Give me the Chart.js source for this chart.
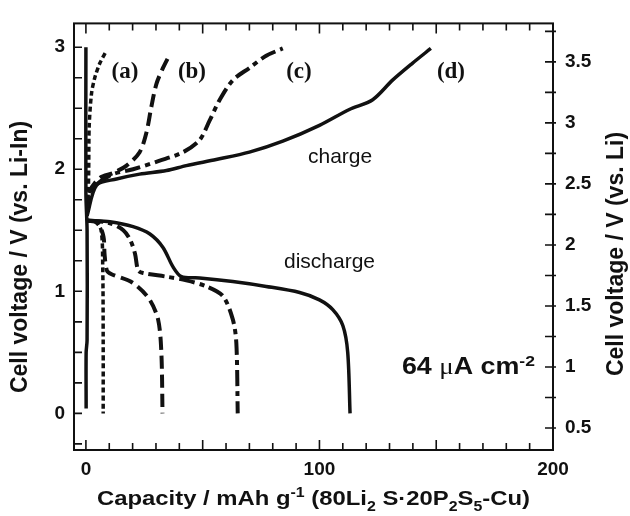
<!DOCTYPE html>
<html><head><meta charset="utf-8">
<script src="https://cdn.jsdelivr.net/npm/chart.js@4.4.1/dist/chart.umd.min.js"></script>
<style>html,body{margin:0;padding:0;background:#fff}</style>
</head><body>
<canvas id="c" width="630" height="516"></canvas>
<script>
// ---------- data ----------
const curveNames = ['(a)', '(b)', '(c)', '(d)'];

const vertX = [0, 0, 0.5, 0.5, 0.1, 0.1];
const vertY = [3.0, 1.8, 1.5, 0.6, 0.5, 0.04];

const chargeAX = [0.5, 1.0, 1.2, 1.4, 2.4, 3.8, 6.0, 8.8];
const chargeAY = [1.62, 1.8, 2.0, 2.35, 2.62, 2.75, 2.87, 2.97];
const dischargeAX = [0.5, 4, 6.5, 7.2, 7.4, 7.4];
const dischargeAY = [1.58, 1.57, 1.5, 1.2, 0.6, 0.0];

const chargeBX = [0.5, 1.7, 6, 11.7, 17.4, 23, 25.9, 28, 30.2, 33, 35.9];
const chargeBY = [1.65, 1.82, 1.93, 1.97, 2.03, 2.14, 2.30, 2.51, 2.70, 2.83, 2.94];
const dischargeBX = [0.5, 5, 7.5, 8, 9, 11, 20, 27, 30.9, 32.3, 32.8];
const dischargeBY = [1.58, 1.56, 1.45, 1.3, 1.17, 1.14, 1.07, 0.94, 0.77, 0.5, 0.0];

const chargeCX = [0.5, 2, 10.3, 20.2, 31.6, 41.6, 48.7, 53, 57.3, 62.9, 70, 77.2, 84.3];
const chargeCY = [1.65, 1.82, 1.95, 2.0, 2.07, 2.14, 2.24, 2.40, 2.57, 2.73, 2.83, 2.93, 2.99];
const dischargeCX = [0.5, 10, 16, 19, 21, 22.4, 24.5, 34.5, 43, 51.6, 58.7, 62.9, 64.4, 65];
const dischargeCY = [1.58, 1.56, 1.5, 1.42, 1.31, 1.17, 1.15, 1.12, 1.09, 1.04, 0.96, 0.77, 0.58, 0.0];

const chargeDX = [0.5, 4.6, 13.1, 23, 34.5, 43, 55.8, 70, 84.3, 100, 112.8, 122.8, 131.3, 139.9, 147.7];
const chargeDY = [1.62, 1.87, 1.92, 1.96, 1.99, 2.03, 2.08, 2.14, 2.23, 2.36, 2.49, 2.57, 2.73, 2.87, 2.99];
const dischargeDX = [0.5, 1.7, 10.3, 20.2, 27.4, 33, 37.3, 40.9, 48.7, 62.9, 77.2, 91.5, 100, 105.7, 110, 112.1, 113.1];
const dischargeDY = [1.58, 1.58, 1.57, 1.53, 1.47, 1.36, 1.20, 1.12, 1.11, 1.08, 1.04, 0.99, 0.93, 0.85, 0.72, 0.5, 0.0];

const xTickLabels = [0, 100, 200];
const yTickLabels = [0, 1, 2, 3];
const y2TickLabels = [0.5, 1, 1.5, 2, 2.5, 3, 3.5];
const LI_IN_OFFSET = 0.62; // V vs Li = V vs Li-In + 0.62

// ---------- helpers ----------
const pts = (xs, ys) => xs.map((v, i) => ({x: v, y: ys[i]}));
const INK = '#111';
const style = (dash, w) => ({borderColor: INK, borderWidth: w, borderDash: dash, pointRadius: 0, fill: false, tension: 0.3, borderCapStyle: 'butt', borderJoinStyle: 'round'});
const dashA = [5, 3], dashB = [13, 6], dashC = [16, 5, 5, 5], solid = [];

const datasets = [
  Object.assign({label: 'vertical', data: pts(vertX, vertY)}, style(solid, 3.5)),
  Object.assign({label: curveNames[0] + ' charge', data: pts(chargeAX, chargeAY)}, style(dashA, 3.5)),
  Object.assign({label: curveNames[0] + ' discharge', data: pts(dischargeAX, dischargeAY)}, style(dashA, 3.5)),
  Object.assign({label: curveNames[1] + ' charge', data: pts(chargeBX, chargeBY)}, style(dashB, 4)),
  Object.assign({label: curveNames[1] + ' discharge', data: pts(dischargeBX, dischargeBY)}, style(dashB, 4)),
  Object.assign({label: curveNames[2] + ' charge', data: pts(chargeCX, chargeCY)}, style(dashC, 4)),
  Object.assign({label: curveNames[2] + ' discharge', data: pts(dischargeCX, dischargeCY)}, style(dashC, 4)),
  Object.assign({label: curveNames[3] + ' charge', data: pts(chargeDX, chargeDY)}, style(solid, 3.5)),
  Object.assign({label: curveNames[3] + ' discharge', data: pts(dischargeDX, dischargeDY)}, style(solid, 3.5))
];

function rich(ctx, parts, x, y, fitW) {
  let w = 0;
  parts.forEach(p => { ctx.font = p[1]; w += ctx.measureText(p[0]).width; });
  const s = fitW ? fitW / w : 1;
  ctx.save(); ctx.translate(x, y); ctx.scale(s, 1);
  ctx.textAlign = 'left'; ctx.textBaseline = 'alphabetic';
  let cx = 0;
  parts.forEach(p => { ctx.font = p[1]; ctx.fillText(p[0], cx, p[2] || 0); cx += ctx.measureText(p[0]).width; });
  ctx.restore();
}

const SANS = 'Liberation Sans, Arial, sans-serif';
const SERIF = 'Liberation Serif, Times New Roman, serif';

const decor = {
  id: 'decor',
  afterDraw(chart) {
    const {ctx, chartArea: a, scales: {x, y, y2}} = chart;
    ctx.save();
    ctx.strokeStyle = INK; ctx.fillStyle = INK;
    ctx.lineWidth = 2;
    ctx.strokeRect(a.left, a.top, a.right - a.left, a.bottom - a.top);
    ctx.lineWidth = 1.6;
    ctx.beginPath();
    for (let v = 0; v <= 200; v += 10) {
      const px = x.getPixelForValue(v), L = (v % 50 === 0) ? 10 : 7;
      ctx.moveTo(px, a.bottom); ctx.lineTo(px, a.bottom - L);
      ctx.moveTo(px, a.top); ctx.lineTo(px, a.top + L);
    }
    for (let v = -0.25; v <= 3.01; v += 0.25) {
      const py = y.getPixelForValue(v);
      ctx.moveTo(a.left, py); ctx.lineTo(a.left + 8, py);
    }
    for (let v = 0.5; v <= 3.76; v += 0.25) {
      const py = y2.getPixelForValue(v);
      ctx.moveTo(a.right - 8, py); ctx.lineTo(a.right + 3, py);
    }
    ctx.stroke();

    // curve labels
    const labelPos = [[16.7, 2.745], [45.4, 2.745], [91.2, 2.745], [156.3, 2.745]];
    ctx.font = 'bold 23px ' + SERIF; ctx.textAlign = 'center'; ctx.textBaseline = 'alphabetic';
    curveNames.forEach((n, i) => ctx.fillText(n, x.getPixelForValue(labelPos[i][0]), y.getPixelForValue(labelPos[i][1])));

    ctx.textAlign = 'left';
    ctx.font = '21px ' + SANS;
    ctx.fillText('charge', x.getPixelForValue(95.1), y.getPixelForValue(2.054));
    ctx.fillText('discharge', x.getPixelForValue(84.8), y.getPixelForValue(1.187));

    rich(ctx, [['64 ', 'bold 23px ' + SANS], ['\u03bc', '23px ' + SERIF], ['A cm', 'bold 23px ' + SANS], ['-2', 'bold 15px ' + SANS, -8]],
      x.getPixelForValue(135.3), y.getPixelForValue(0.319), 133);

    // x axis title
    const B = 'bold 21px ' + SANS, S = 'bold 14px ' + SANS;
    rich(ctx, [['Capacity / mAh g', B], ['-1', S, -8], [' (80Li', B], ['2', S, 6], [' S\u00b720P', B], ['2', S, 6], ['S', B], ['5', S, 6], ['-Cu)', B]],
      97, 505, 433);

    // y axis titles
    ctx.font = 'bold 23px ' + SANS; ctx.textAlign = 'center'; ctx.textBaseline = 'middle';
    ctx.save(); ctx.translate(21, 257); ctx.rotate(-Math.PI / 2); ctx.fillText('Cell voltage / V (vs. Li-In)', 0, 0); ctx.restore();
    ctx.save(); ctx.translate(617, 254); ctx.rotate(-Math.PI / 2); ctx.fillText('Cell voltage / V (vs. Li)', 0, 0); ctx.restore();
    ctx.restore();
  }
};

const tickFont = {family: SANS, weight: 'bold', size: 19};
const fmt = v => String(v);

new Chart(document.getElementById('c'), {
  type: 'line',
  data: {datasets},
  options: {
    responsive: false, animation: false,
    layout: {padding: {top: 15, left: 0, right: 0, bottom: 0}},
    plugins: {legend: {display: false}, tooltip: {enabled: false}},
    scales: {
      x: {
        type: 'linear', position: 'bottom', min: -5.1, max: 200,
        grid: {display: false, drawTicks: false}, border: {display: false},
        ticks: {font: tickFont, color: INK, padding: 8, maxRotation: 0, callback: fmt},
        afterBuildTicks: s => { s.ticks = xTickLabels.map(v => ({value: v})); },
        afterFit: s => { s.height = 66; }
      },
      y: {
        type: 'linear', position: 'left', min: -0.3, max: 3.195,
        grid: {display: false, drawTicks: false}, border: {display: false},
        ticks: {font: tickFont, color: INK, padding: 9, callback: fmt},
        afterBuildTicks: s => { s.ticks = yTickLabels.map(v => ({value: v})); },
        afterFit: s => { s.width = 74; }
      },
      y2: {
        type: 'linear', position: 'right', min: -0.3 + LI_IN_OFFSET, max: 3.195 + LI_IN_OFFSET,
        grid: {display: false, drawTicks: false}, border: {display: false},
        ticks: {font: tickFont, color: INK, padding: 12, callback: fmt},
        afterBuildTicks: s => { s.ticks = y2TickLabels.map(v => ({value: v})); },
        afterFit: s => { s.width = 77; }
      }
    }
  },
  plugins: [decor]
});
</script>
</body></html>
